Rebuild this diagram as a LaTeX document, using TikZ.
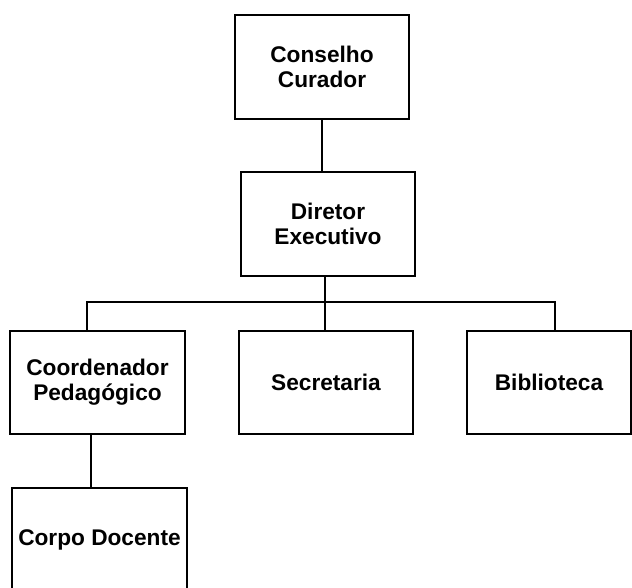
\documentclass[tikz,border=0pt]{standalone}
\usepackage{fontspec}
\setmainfont{Liberation Sans}
\usetikzlibrary{positioning}

\begin{document}
\begin{tikzpicture}[line cap=rect,line join=miter,x=0.75pt,y=-0.75pt,
  box/.style={draw,line width=1.5pt,minimum width=131pt,minimum height=77.5pt,
    inner sep=0pt,align=center,font=\fontsize{17}{18.75}\selectfont\bfseries},
  link/.style={line width=1.5pt}]
\clip (0,0) rectangle (632,587);
\node[box] (cons) at (322,67) {Conselho\\Curador};
\node[box] (dir) at (328,224) {Diretor\\Executivo};
\node[box] (coord) at (97.5,382.5) {Coordenador\\Pedag\'ogico};
\node[box] (sec) at (326,382.5) {Secretaria};
\node[box,minimum width=123pt] (bib) at (549,382.5) {Biblioteca};
\node[box] (corpo) at (99.5,539.5) {Corpo Docente};
\coordinate (jl) at (87,302);
\coordinate (jm) at (325,302);
\coordinate (jr) at (555,302);
\coordinate (jc) at (91,434);
\draw[link] (cons.south) -- (cons.south |- dir.north);
\draw[link] (jm |- dir.south) -- (jm);
\draw[link] (jl) -- (jr);
\draw[link] (jl) -- (jl |- coord.north);
\draw[link] (jm) -- (jm |- sec.north);
\draw[link] (jr) -- (jr |- bib.north);
\draw[link] (jc |- coord.south) -- (jc |- corpo.north);
\end{tikzpicture}
\end{document}
